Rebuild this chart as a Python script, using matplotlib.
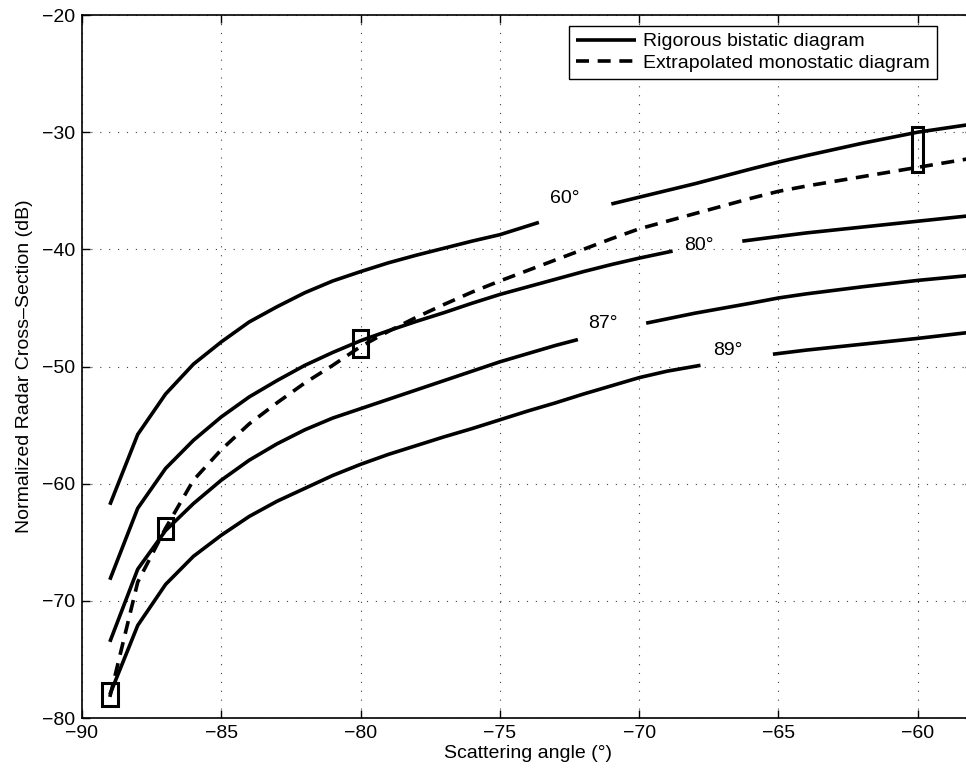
import numpy as np
import matplotlib.pyplot as plt
from matplotlib.patches import Rectangle

plt.rcParams['font.family'] = ['Liberation Sans', 'DejaVu Sans']

nan = np.nan

# rigorous bistatic curves, one per incidence angle
# (a nan marks the spot where the inline label cuts the curve)
x_60 = [-89, -88, -87, -86, -85, -84, -83, -82, -81, -80, -79, -78, -77, -76, -75, -73.6,
        nan, -71, -70, -68, -66, -65, -64, -62, -60, -58]
rcs_60 = [-61.8, -55.8, -52.35, -49.8, -47.9, -46.2, -44.9, -43.7, -42.7, -41.9, -41.15, -40.5, -39.9,
          -39.3, -38.75, -37.7, nan, -36.13, -35.55, -34.4, -33.15, -32.55, -32.0, -30.95, -30.0, -29.3]

x_80 = [-89, -88, -87, -86, -85, -84, -83, -82, -81, -80, -79, -78, -77, -76, -75, -74, -73, -72,
        -71, -70, -68.8, nan, -66.3, -65, -64, -62, -60, -58]
rcs_80 = [-68.2, -62.1, -58.7, -56.3, -54.3, -52.6, -51.2, -49.9, -48.8, -47.8, -46.95, -46.15, -45.4,
          -44.6, -43.85, -43.2, -42.55, -41.9, -41.3, -40.75, -40.15, nan, -39.3, -38.9, -38.6, -38.1,
          -37.6, -37.1]

x_87 = [-89, -88, -87, -86, -85, -84, -83, -82, -81, -80, -79, -78, -77, -76, -75, -74, -73, -72.2,
        nan, -69.75, -68, -66, -65, -64, -62, -60, -58]
rcs_87 = [-73.5, -67.3, -64.0, -61.7, -59.7, -58.0, -56.6, -55.4, -54.4, -53.6, -52.8, -52.0, -51.2,
          -50.4, -49.6, -48.9, -48.2, -47.7, nan, -46.3, -45.45, -44.6, -44.15, -43.8, -43.2, -42.65,
          -42.2]

x_89 = [-89, -88, -87, -86, -85, -84, -83, -82, -81, -80, -79, -78, -77, -76, -75, -74, -73, -72,
        -71, -70, -69, -67.8, nan, -65.2, -64, -62, -60, -58]
rcs_89 = [-78.0, -72.1, -68.6, -66.2, -64.4, -62.8, -61.5, -60.4, -59.3, -58.35, -57.5, -56.75, -56.0,
          -55.3, -54.55, -53.8, -53.1, -52.35, -51.65, -50.95, -50.4, -49.9, nan, -48.95, -48.6, -48.1,
          -47.6, -47.05]

# extrapolated monostatic diagram
x_mono = [-89, -88, -87, -86, -85, -84, -83, -82, -81, -80, -79, -78, -77, -76, -75, -74, -73, -72,
          -71, -70, -69, -68, -67, -66, -65, -64, -62, -60, -58]
rcs_mono = [-78.2, -68.4, -63.8, -59.7, -57.1, -54.9, -53.1, -51.4, -49.9, -48.3, -47.0, -45.8, -44.7,
            -43.65, -42.7, -41.8, -40.9, -40.0, -39.1, -38.25, -37.6, -36.95, -36.3, -35.65, -35.05,
            -34.6, -33.8, -33.0, -32.2]

# inline labels of the curves
label_text = ['60°', '80°', '87°', '89°']
label_x = [-72.66, -67.86, -71.29, -66.82]
label_y = [-35.65, -39.7, -46.3, -48.6]

# boxes where rigorous and extrapolated diagrams meet
box_x = [-89, -87, -80, -60]
box_lo = [-79.0, -64.7, -49.2, -33.4]
box_hi = [-77.0, -62.9, -46.9, -29.6]
box_w = [0.59, 0.52, 0.54, 0.41]

fig = plt.figure(figsize=(9.66, 7.72), dpi=100)
ax = fig.add_axes([82 / 966, 1 - 718 / 772, 891.5 / 966, 703 / 772])

lw = 2.6
first = True
for xs, ys in [(x_60, rcs_60), (x_80, rcs_80), (x_87, rcs_87), (x_89, rcs_89)]:
    ax.plot(xs, ys, color='black', lw=lw, solid_capstyle='butt',
            label='Rigorous bistatic diagram' if first else None, zorder=3)
    first = False
ax.plot(x_mono, rcs_mono, color='black', lw=lw, linestyle=(0, (3.6, 2.4)),
        label='Extrapolated monostatic diagram', zorder=4)

for t, lx, ly in zip(label_text, label_x, label_y):
    ax.text(lx, ly, t, fontsize=14, ha='center', va='center', zorder=5)

for bx, lo, hi, w in zip(box_x, box_lo, box_hi, box_w):
    ax.add_patch(Rectangle((bx - w / 2, lo), w, hi - lo, fill=False, edgecolor='black',
                           lw=2.2, zorder=6))

ax.set_xlim(-90, -58)
ax.set_ylim(-80, -20)
ax.set_xticks(np.arange(-90, -58, 5))
ax.set_yticks(np.arange(-80, -19, 10))
ax.grid(True, color='0.25', linestyle=(0, (1, 7)), lw=0.8)
ax.tick_params(direction='in', length=6, width=1, top=True, right=True, labelsize=14, pad=5)
for sp in ax.spines.values():
    sp.set_linewidth(1.2)

ax.set_xlabel('Scattering angle (°)', fontsize=14, labelpad=2)
ax.set_ylabel('Normalized Radar Cross–Section (dB)', fontsize=14, labelpad=6)

leg = ax.legend(loc='upper right', bbox_to_anchor=(936.7 / 966, 1 - 26 / 772),
                bbox_transform=fig.transFigure, borderaxespad=0, fontsize=14,
                fancybox=False, edgecolor='black', framealpha=1, handlelength=3.1,
                handletextpad=0.35, labelspacing=0.2, borderpad=0.35)
leg.get_frame().set_linewidth(1.0)

fig.savefig('out.png', dpi=100)
